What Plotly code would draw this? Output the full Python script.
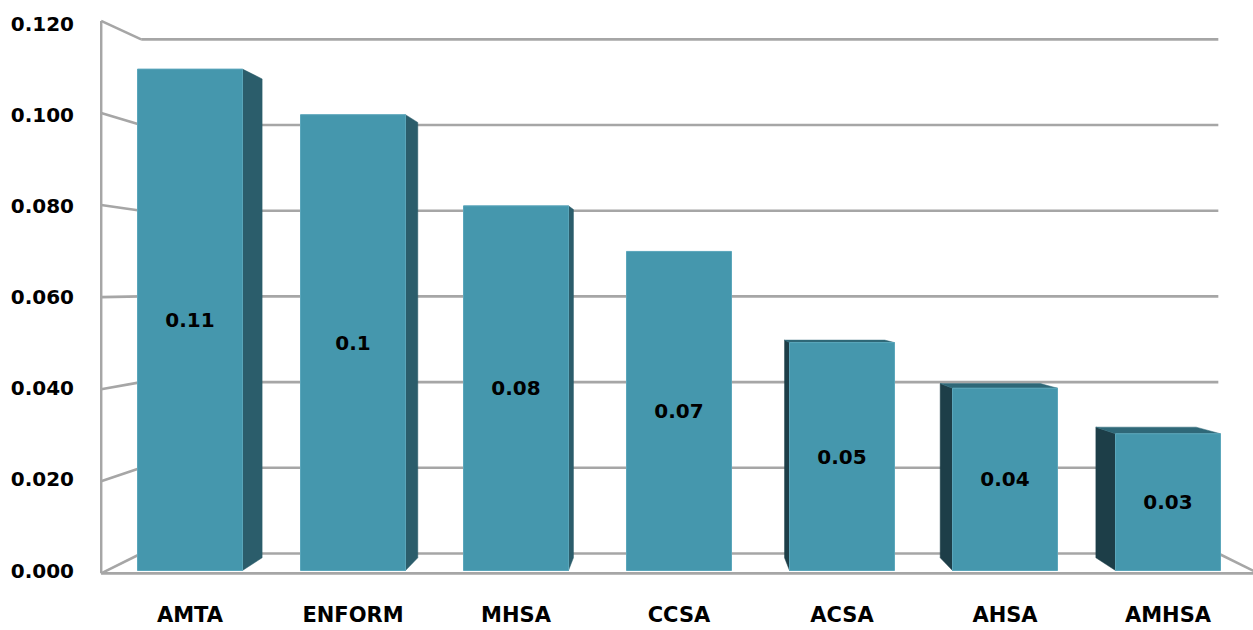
import plotly.graph_objects as go

# ---- data ----
categories = ["AMTA", "ENFORM", "MHSA", "CCSA", "ACSA", "AHSA", "AMHSA"]
values = [0.11, 0.10, 0.08, 0.07, 0.05, 0.04, 0.03]
y_ticks = [0.0, 0.02, 0.04, 0.06, 0.08, 0.10, 0.12]
y_tick_labels = ["0.000", "0.020", "0.040", "0.060", "0.080", "0.100", "0.120"]

# ---- styling / pseudo-3D geometry ----
FRONT = "#4597AD"
SIDE_R = "#2B5D6B"
SIDE_L = "#1D3E48"
TOP = "#2F6878"
GRID = "#A6A6A6"
BAR_W = 0.644
VX, VV = 3.0, 0.0622          # vanishing point (data units)
S_WALL_F, S_WALL_B = 1.01, 0.94
S_BAR_B = 0.955
X_LEFT, X_RIGHT = -0.51, 6.52
FONT = "DejaVu Sans"

def proj(x, v, s):
    return VX + (x - VX) * s, VV + (v - VV) * s

xs = list(range(len(categories)))
fig = go.Figure()

def line(p1, p2, width=2.6):
    fig.add_trace(go.Scatter(x=[p1[0], p2[0]], y=[p1[1], p2[1]], mode="lines",
                             line=dict(color=GRID, width=width),
                             hoverinfo="skip", showlegend=False, xaxis="x", yaxis="y"))

def poly(pts, color):
    fig.add_trace(go.Scatter(x=[p[0] for p in pts] + [pts[0][0]],
                             y=[p[1] for p in pts] + [pts[0][1]],
                             mode="lines", fill="toself", fillcolor=color,
                             line=dict(color=color, width=0.5),
                             hoverinfo="skip", showlegend=False, xaxis="x", yaxis="y"))

# back wall gridlines + left wall lines
for t in y_ticks:
    line(proj(X_LEFT, t, S_WALL_B), proj(X_RIGHT, t, S_WALL_B))
    line(proj(X_LEFT, t, S_WALL_F), proj(X_LEFT, t, S_WALL_B))
# left wall front edge
line(proj(X_LEFT, y_ticks[0], S_WALL_F), proj(X_LEFT, y_ticks[-1], S_WALL_F))
# floor front edge and right edge
line(proj(X_LEFT, 0, S_WALL_F), proj(X_RIGHT, 0, S_WALL_F))
line(proj(X_RIGHT, 0, S_WALL_B), proj(X_RIGHT, 0, S_WALL_F))

# side and top faces of the bars
for x, v in zip(xs, values):
    left, right = x - BAR_W / 2, x + BAR_W / 2
    if x < VX - 0.01:
        e = right
        poly([proj(e, 0, 1), proj(e, v, 1), proj(e, v, S_BAR_B), proj(e, 0, S_BAR_B)], SIDE_R)
    elif x > VX + 0.01:
        e = left
        poly([proj(e, 0, 1), proj(e, v, 1), proj(e, v, S_BAR_B), proj(e, 0, S_BAR_B)], SIDE_L)
    if v < VV:
        poly([proj(left, v, 1), proj(right, v, 1), proj(right, v, S_BAR_B), proj(left, v, S_BAR_B)], TOP)

# front faces
fig.add_trace(go.Bar(
    x=xs, y=values, width=BAR_W, marker=dict(color=FRONT, line=dict(color="#5AA6BB", width=1)),
    texttemplate="%{y}", textposition="inside", insidetextanchor="middle", textangle=0,
    constraintext="none",
    textfont=dict(family=FONT, size=20, color="black", weight="bold"),
    showlegend=False, xaxis="x2", yaxis="y2"))

XR = [-0.5521, 6.5215]
YR = [-0.000987, 0.12187]
fig.update_layout(
    width=1253, height=630,
    margin=dict(l=100, r=0, t=15, b=55),
    paper_bgcolor="white", plot_bgcolor="white",
    font=dict(family=FONT, color="black"),
    xaxis=dict(range=XR, tickvals=xs, ticktext=categories, showgrid=False, zeroline=False,
               showline=False, ticks="", ticklabelstandoff=25,
               tickfont=dict(family=FONT, size=21, color="black", weight="bold")),
    yaxis=dict(range=YR, tickvals=y_ticks, ticktext=y_tick_labels, showgrid=False, zeroline=False,
               showline=False, ticks="", ticklabelstandoff=25,
               tickfont=dict(family=FONT, size=20, color="black", weight="bold")),
    xaxis2=dict(range=XR, overlaying="x", visible=False),
    yaxis2=dict(range=YR, overlaying="y", visible=False),
)

fig.write_html("out.html")
